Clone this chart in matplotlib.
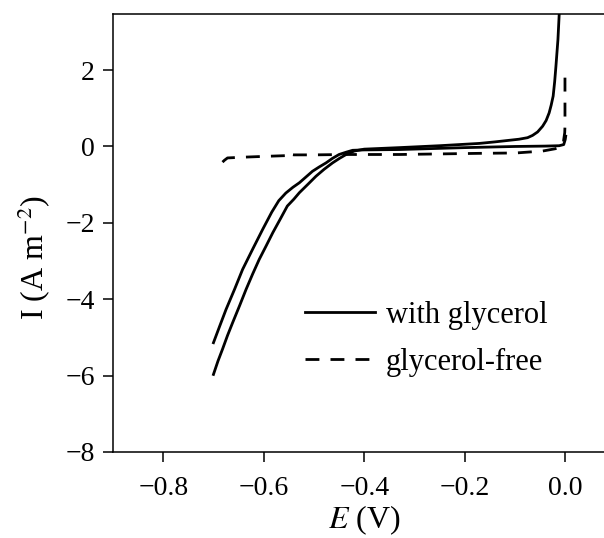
import numpy as np
import matplotlib
matplotlib.use("Agg")
import matplotlib.pyplot as plt

plt.rcParams['font.family'] = ['Liberation Serif', 'DejaVu Serif']
plt.rcParams['mathtext.fontset'] = 'stix'

# with glycerol, branch going up to the oxidation spike
E_with_a = [-0.700, -0.691, -0.682, -0.672, -0.662, -0.648, -0.635, -0.622, -0.609, -0.595,
            -0.582, -0.567, -0.553, -0.540, -0.529, -0.512, -0.496, -0.480, -0.463, -0.449,
            -0.436, -0.420, -0.400, -0.330, -0.250, -0.171, -0.140, -0.092, -0.075, -0.065,
            -0.055, -0.045, -0.038, -0.032, -0.028, -0.024, -0.021, -0.0185, -0.0145, -0.012,
            -0.010]
I_with_a = [-5.97, -5.62, -5.31, -4.95, -4.62, -4.17, -3.74, -3.34, -2.96, -2.60,
            -2.26, -1.90, -1.56, -1.38, -1.21, -0.99, -0.78, -0.60, -0.43, -0.31,
            -0.21, -0.12, -0.07, -0.03, 0.02, 0.08, 0.12, 0.19, 0.23, 0.29,
            0.38, 0.53, 0.68, 0.88, 1.08, 1.32, 1.70, 2.10, 2.80, 3.46,
            4.0]

# with glycerol, return branch
E_with_b = [-0.700, -0.688, -0.675, -0.658, -0.642, -0.622, -0.602, -0.584, -0.570, -0.556,
            -0.542, -0.529, -0.516, -0.503, -0.490, -0.476, -0.463, -0.450, -0.436, -0.423,
            -0.400, -0.330, -0.200, -0.100, -0.040, -0.012, -0.003, 0.000, 0.001]
I_with_b = [-5.14, -4.72, -4.27, -3.74, -3.22, -2.69, -2.17, -1.72, -1.42, -1.22,
            -1.07, -0.95, -0.80, -0.65, -0.54, -0.43, -0.31, -0.21, -0.15, -0.10,
            -0.09, -0.08, -0.03, 0.00, 0.01, 0.02, 0.05, 0.18, 0.27]

# glycerol-free
E_free = [-0.682, -0.678, -0.672, -0.640, -0.600, -0.556, -0.551, -0.549, -0.540, -0.500,
          -0.436, -0.330, -0.171, -0.098, -0.045, -0.020, -0.008, -0.004, -0.003, -0.001,
          -0.0005, -0.0005]
I_free = [-0.41, -0.36, -0.30, -0.28, -0.26, -0.24, -0.15, -0.20, -0.22, -0.22,
          -0.21, -0.21, -0.18, -0.17, -0.12, -0.06, -0.01, 0.05, 0.18, 0.36,
          0.53, 1.84]

fig = plt.figure(figsize=(6.04, 5.38), dpi=100)
ax = fig.add_axes([0.187, 0.160, 0.832, 0.814])

ax.plot(E_with_a, I_with_a, color='black', lw=2.0, label='with glycerol')
ax.plot(E_with_b, I_with_b, color='black', lw=2.0)
ax.plot(E_free, I_free, color='black', lw=2.0, ls=(0, (5, 4)), label='glycerol-free')

ax.set_xlim(-0.9, 0.1)
ax.set_ylim(-8, 3.47)
ax.set_xticks([-0.8, -0.6, -0.4, -0.2, 0.0])
ax.set_xticklabels(['\u22120.8', '\u22120.6', '\u22120.4', '\u22120.2', '0.0'])
ax.set_yticks([2, 0, -2, -4, -6, -8])
ax.set_yticklabels(['2', '0', '\u22122', '\u22124', '\u22126', '\u22128'])

ax.spines['right'].set_visible(False)
for s in ax.spines.values():
    s.set_linewidth(1.1)
ax.tick_params(direction='out', length=7, width=1.1, labelsize=20)
ax.tick_params(axis='x', pad=10)
ax.tick_params(axis='y', pad=6)

ax.set_xlabel('$E$ (V)', fontsize=23, labelpad=2)
ax.set_ylabel('I (A m$^{-2}$)', fontsize=23)
ax.yaxis.set_label_coords(-0.119, 0.443)

ax.legend(loc='upper left', bbox_to_anchor=(0.382, 0.345), frameon=False, fontsize=22,
          handlelength=2.3, handletextpad=0.35, borderpad=0, borderaxespad=0, labelspacing=0.6)

fig.savefig('out.png', dpi=100)
